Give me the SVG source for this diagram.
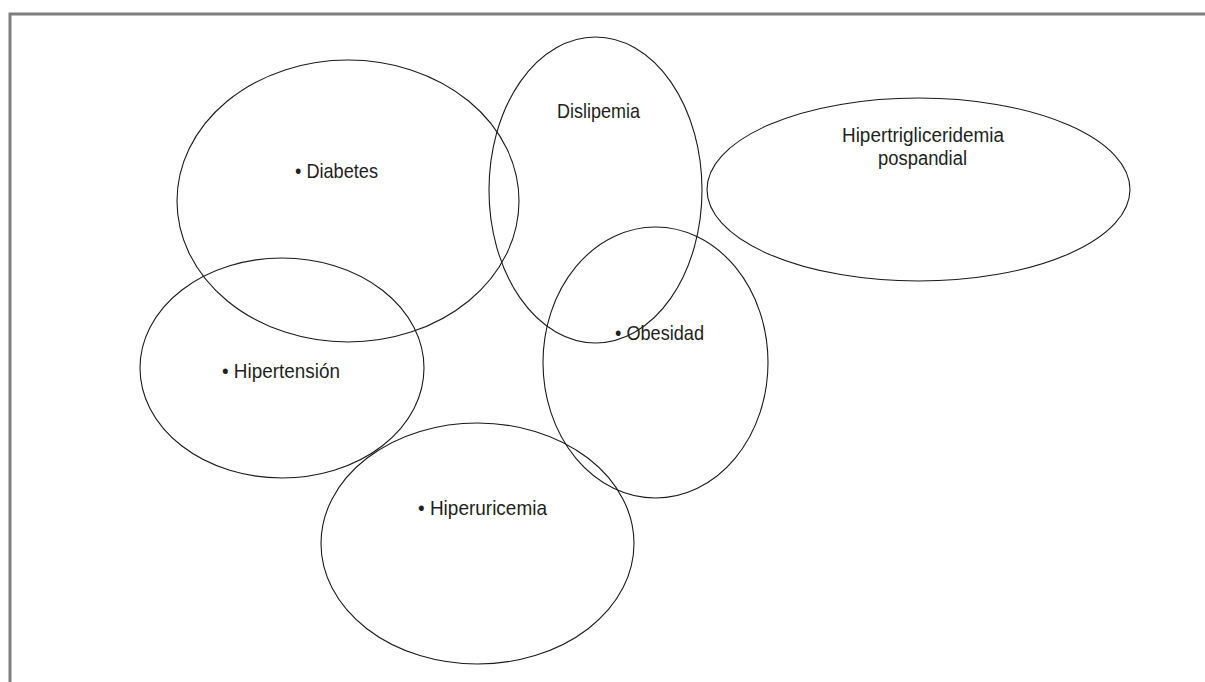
<svg xmlns="http://www.w3.org/2000/svg" width="1205" height="682" viewBox="0 0 1205 682">
<style>
.e{fill:none;stroke:#1a1a1a;stroke-width:1.1}
.t{font-family:"Liberation Sans Narrow","Liberation Sans",Arial,sans-serif;font-size:21px;fill:#231f20}
.frame{fill:none;stroke:#7f7f7f;stroke-width:3}
</style>
<rect width="1205" height="682" fill="#fff"/>
<path class="frame" d="M10,682 V14 H1205"/>
<g id="diabetes"><ellipse class="e" cx="348" cy="201" rx="171" ry="141"/><text class="t" x="295" y="178" textLength="83" lengthAdjust="spacingAndGlyphs">• Diabetes</text></g>
<g id="dislipemia"><ellipse class="e" cx="595.5" cy="190" rx="106.5" ry="153"/><text class="t" x="557" y="118" textLength="83" lengthAdjust="spacingAndGlyphs">Dislipemia</text></g>
<g id="hipertrigliceridemia"><ellipse class="e" cx="918.5" cy="189.5" rx="211.5" ry="91.5"/><text class="t" x="842" y="142" textLength="162" lengthAdjust="spacingAndGlyphs" style="font-size:20px">Hipertrigliceridemia</text><text class="t" x="878" y="165" textLength="89" lengthAdjust="spacingAndGlyphs" style="font-size:20px">pospandial</text></g>
<g id="hipertension"><ellipse class="e" cx="282" cy="368" rx="142" ry="110"/><text class="t" x="222" y="378" textLength="118" lengthAdjust="spacingAndGlyphs">• Hipertensión</text></g>
<g id="obesidad"><ellipse class="e" cx="655.5" cy="362.5" rx="112.5" ry="135.5"/><text class="t" x="615" y="340" textLength="89" lengthAdjust="spacingAndGlyphs">• Obesidad</text></g>
<g id="hiperuricemia"><ellipse class="e" cx="477.5" cy="543.5" rx="156.5" ry="120.5"/><text class="t" x="418" y="515" textLength="129" lengthAdjust="spacingAndGlyphs">• Hiperuricemia</text></g>
<g id="connectors"></g>
</svg>
